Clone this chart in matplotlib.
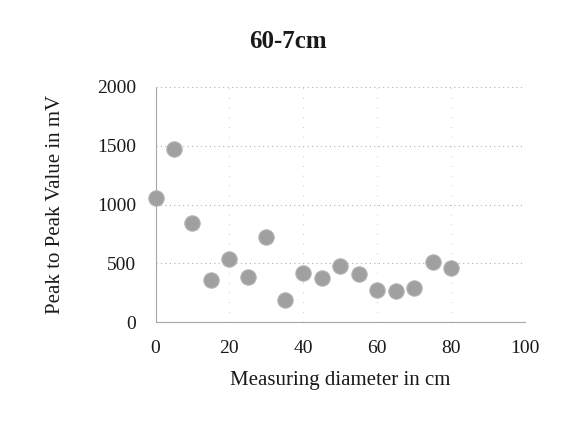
import matplotlib
matplotlib.use("Agg")
import matplotlib.pyplot as plt

diameter_cm = [0, 5, 10, 15, 20, 25, 30, 35, 40, 45, 50, 55, 60, 65, 70, 75, 80]
peak_mv = [1052, 1471, 846, 359, 537, 388, 727, 190, 419, 379, 475, 410, 274, 269, 294, 515, 461]
x_ticks = [0, 20, 40, 60, 80, 100]
y_ticks = [0, 500, 1000, 1500, 2000]

plt.rcParams['font.family'] = ['Liberation Serif', 'DejaVu Serif']

fig = plt.figure(figsize=(5.67, 4.23), dpi=100)
ax = fig.add_axes([155.5/567, 1 - 322.3/423, (525 - 155.5)/567, (322.3 - 86.7)/423])

ax.scatter(diameter_cm, peak_mv, s=122, color='#a0a0a0', edgecolors='#b3b3b3',
           linewidths=0.8, zorder=3, clip_on=False)

ax.set_xlim(0, 100)
ax.set_ylim(0, 2000)
ax.set_xticks(x_ticks)
ax.set_yticks(y_ticks)
ax.tick_params(axis='both', length=0, labelsize=14, colors='#1a1a1a')
ax.tick_params(axis='x', pad=13)
ax.tick_params(axis='y', pad=14)

ax.grid(axis='y', color='#b0b0b0', linestyle=(0, (1, 3)), linewidth=0.8)
ax.grid(axis='x', color='#c8c8c8', linestyle=(0, (1, 9)), linewidth=0.7)
ax.set_axisbelow(True)

for s in ['top', 'right']:
    ax.spines[s].set_visible(False)
for s in ['left', 'bottom']:
    ax.spines[s].set_color('#a8a8a8')
    ax.spines[s].set_linewidth(0.8)
    ax.spines[s].set_linestyle((0, (1, 1)))

ax.set_xlabel('Measuring diameter in cm', fontsize=15, labelpad=10, color='#1a1a1a')
ax.set_ylabel('Peak to Peak Value in mV', fontsize=15, labelpad=23, color='#1a1a1a')

fig.text(0.507, 1 - 42/423, '60-7cm', ha='center', va='center', fontsize=18,
         fontweight='bold', color='#1a1a1a')

fig.savefig('out.png', dpi=100)
